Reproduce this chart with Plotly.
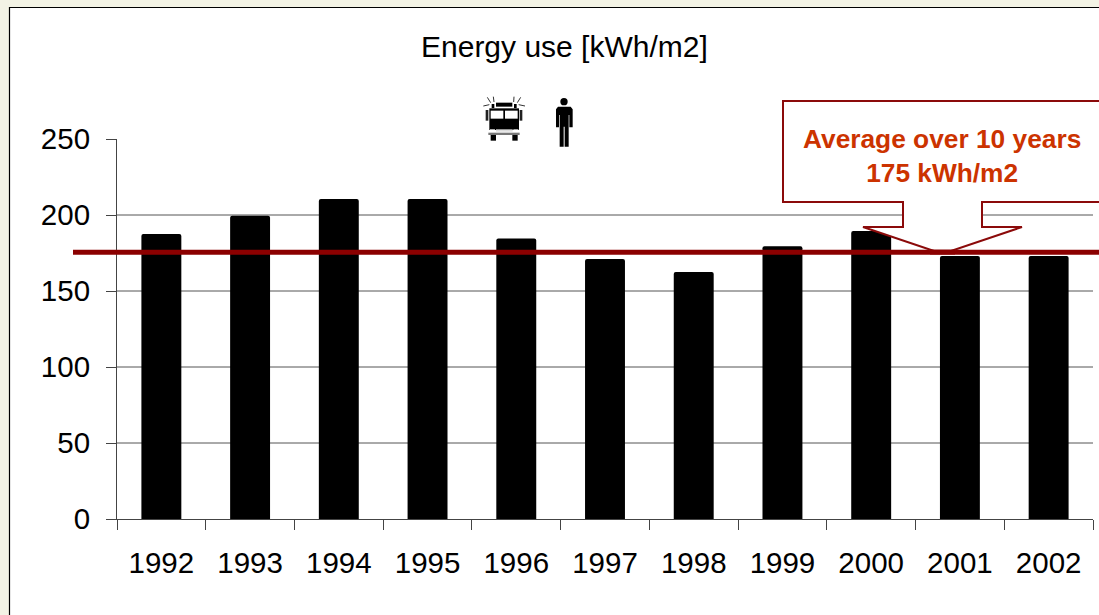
import plotly.graph_objects as go

years = ["1992","1993","1994","1995","1996","1997","1998","1999","2000","2001","2002"]
energy_use = [187.5,199.5,210.5,210.5,184.5,171,162.5,179.5,189.5,173,173]
average_value = 175.5
y_ticks = [0,50,100,150,200,250]
grid_values = [50,100,150,200]
title_text = "Energy use [kWh/m2]"
callout_text = "Average over 10 years<br>175 kWh/m2"

W, H = 1099, 615
L, R, T, B = 117, 1093, 139, 519

def px(x): return (x - L) / (R - L)
def py(y): return (B - y) / (B - T)
def path(points):
    return "M" + " L".join(f"{px(x):.5f},{py(y):.5f}" for x, y in points) + " Z"

def rect_shape(x0, y0, x1, y1, fill, line=None, lw=0, layer="above"):
    return dict(type="rect", xref="paper", yref="paper", x0=px(x0), x1=px(x1), y0=py(y0), y1=py(y1),
                fillcolor=fill, line=dict(color=line or fill, width=lw), layer=layer)

def poly_shape(points, fill, line=None, lw=0):
    return dict(type="path", xref="paper", yref="paper", path=path(points), fillcolor=fill,
                line=dict(color=line or fill, width=lw), layer="above")

def seg(x0, y0, x1, y1, color="#000", lw=1):
    return dict(type="line", xref="paper", yref="paper", x0=px(x0), x1=px(x1), y0=py(y0), y1=py(y1),
                line=dict(color=color, width=lw), layer="above")

shapes = []
# white panel with black outline
shapes.append(rect_shape(9.5, 7.5, 1130, 650, "#FFFFFF", "#000000", 1.2, layer="below"))
# gridlines
for g in grid_values:
    shapes.append(dict(type="line", xref="paper", yref="y", x0=0, x1=1, y0=g, y1=g,
                       line=dict(color="#555555", width=1), layer="below"))
# average line
shapes.append(dict(type="line", xref="paper", yref="y", x0=px(73), x1=px(1110), y0=average_value, y1=average_value,
                   line=dict(color="#8B0000", width=5), layer="above"))
# callout
DR = "#8B0A0A"
shapes.append(poly_shape([(783,101),(1110,101),(1110,202),(982,202),(982,227),(1022,227),(948,252),
                          (937,252),(863,227),(903,227),(903,202),(783,202)], "#FFFFFF", DR, 2))
shapes.append(seg(930,252,955,252,"#8B0000",5))

# fire truck icon
def z(x, y): return (450 + x / 3, 80 + y / 3)
def zrect(a, b, c, d, fill):
    p, q = z(a, b), z(c, d)
    return rect_shape(p[0], p[1], q[0], q[1], fill)
truck = [
    zrect(118,85,207,150,"#000"), zrect(122,92,160,116,"#fff"), zrect(165,92,203,116,"#fff"),
    zrect(138,68,187,80,"#000"), zrect(125,72,133,84,"#000"), zrect(192,72,200,84,"#000"),
    zrect(107,90,115,122,"#222"), zrect(209,90,217,122,"#222"),
    zrect(120,148,135,158,"#fff"), zrect(190,148,205,158,"#fff"), zrect(138,148,188,155,"#ddd"),
    zrect(115,158,209,165,"#777"), zrect(122,165,138,182,"#000"), zrect(187,165,203,182,"#000"),
]
shapes += truck
for a, b, c, d in [(100,78,118,74),(112,52,122,68),(130,50,132,66),(225,78,206,74),(212,52,202,68),(192,50,191,66)]:
    p, q = z(a, b), z(c, d)
    shapes.append(seg(p[0], p[1], q[0], q[1], "#333", 1))

# person icon
shapes.append(dict(type="circle", xref="paper", yref="paper", x0=px(450+331/3), x1=px(450+353/3),
                   y0=py(80+54/3), y1=py(80+76/3), fillcolor="#000", line=dict(width=0), layer="above"))
shapes.append(poly_shape([z(*p) for p in [(324,80),(362,80),(368,88),(368,142),(358,142),(358,105),(356,105),
                          (356,200),(344,200),(344,140),(341,140),(341,200),(329,200),(329,105),(327,105),
                          (327,142),(318,142),(318,88)]], "#000"))

fig = go.Figure(go.Bar(x=years, y=energy_use, width=0.45, marker=dict(color="#000000", cornerradius=2, line=dict(width=0))))

font = "Liberation Sans, Arial, sans-serif"
fig.update_layout(
    width=W, height=H, autosize=False,
    margin=dict(l=L, r=W - R, t=T, b=H - B, pad=0),
    paper_bgcolor="#F3F3E5", plot_bgcolor="rgba(0,0,0,0)",
    showlegend=False, shapes=shapes,
    font=dict(family=font, color="#000000", size=29.5),
    annotations=[
        dict(text=title_text, xref="paper", yref="paper", x=px(564), y=py(46), showarrow=False,
             font=dict(size=30, family=font, color="#000"), xanchor="center", yanchor="middle"),
        dict(text=callout_text, xref="paper", yref="paper", x=px(942), y=py(155.5), showarrow=False, align="center",
             font=dict(size=26.3, family=font, color="#CC3300", weight="bold"), xanchor="center", yanchor="middle"),
    ],
    xaxis=dict(type="category", range=[-0.5, 10.5], showgrid=False, showline=True, linecolor="#444444", linewidth=1,
               ticks="outside", tickson="boundaries", ticklen=10, tickcolor="#444444", tickwidth=1,
               ticklabelstandoff=18, tickfont=dict(size=29.5)),
    yaxis=dict(range=[0, 250], tickvals=y_ticks, showgrid=False, zeroline=False, showline=True,
               linecolor="#444444", linewidth=1, ticks="outside", ticklen=10, tickcolor="#444444", tickwidth=1,
               ticklabelstandoff=10, tickfont=dict(size=29.5)),
)

fig.write_html("out.html", config=dict(displayModeBar=False),
               post_script="document.body.style.margin='0';document.body.style.overflow='hidden';")
